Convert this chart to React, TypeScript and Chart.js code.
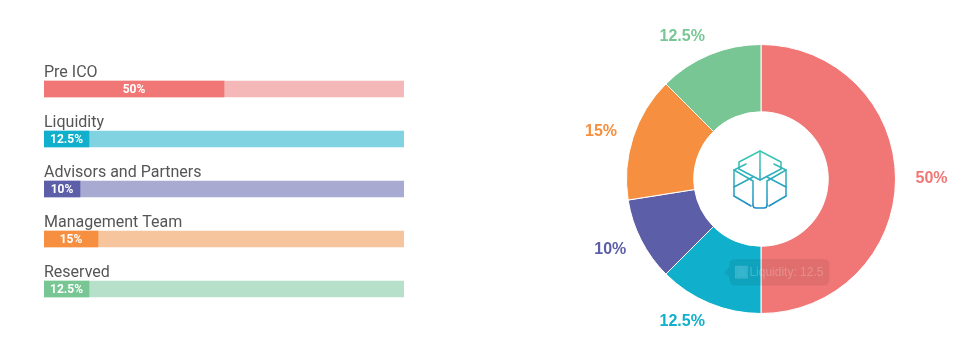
import React, { useEffect, useRef } from 'react';
import { Chart, registerables } from 'chart.js';

Chart.register(...registerables);

const categories = ['Pre ICO', 'Liquidity', 'Advisors and Partners', 'Management Team', 'Reserved'];
const shares = [50, 12.5, 10, 15, 12.5];
const shareLabels = ['50%', '12.5%', '10%', '15%', '12.5%'];
const trackValues = [100, 100, 100, 100, 100];
const solidColors = ['#f17776', '#10afcb', '#5c5ea8', '#f68f3f', '#78c694'];
const lightColors = ['#f4b8b8', '#81d3e1', '#a9aad2', '#f6c59e', '#b6e0c9'];
const tooltipIndex = 1;

const barLabelPlugin = {
  id: 'barLabels',
  afterDatasetsDraw(chart: any) {
    const ctx = chart.ctx;
    const meta = chart.getDatasetMeta(0);
    const left = chart.chartArea.left;
    ctx.save();
    meta.data.forEach((bar: any, i: number) => {
      const p = bar.getProps(['x', 'y', 'base', 'height'], true);
      ctx.font = '16px Roboto';
      ctx.fillStyle = '#555555';
      ctx.textAlign = 'left';
      ctx.textBaseline = 'alphabetic';
      ctx.fillText(categories[i], left, p.y - p.height / 2 - 4);
      ctx.font = 'bold 12px Roboto';
      ctx.fillStyle = '#ffffff';
      ctx.textAlign = 'center';
      ctx.textBaseline = 'middle';
      ctx.fillText(shareLabels[i], (p.x + p.base) / 2, p.y + 0.5);
    });
    ctx.restore();
  },
};

const logoPaths = [
  'M -21 -10 L -21 -17 L 0 -28 L 21 -17 L 21 -10',
  'M 0 -28 L 0 1',
  'M -26 17 L -26 -9 L -14 -15',
  'M 26 17 L 26 -9 L 14 -15',
  'M -21 -10 L 0 1 L 21 -10',
  'M -26 -9 L -7 2 L -7 26',
  'M 26 -9 L 7 2 L 7 26',
  'M -26 17 L -9 27',
  'M 26 17 L 9 27',
  'M -7 26 Q -7 29 -4 29 L 4 29 Q 7 29 7 26',
  'M -26 8 L -7 -2',
  'M 26 8 L 7 -2',
];

const donutPlugin = {
  id: 'donutExtras',
  afterDatasetsDraw(chart: any) {
    const ctx = chart.ctx;
    const meta = chart.getDatasetMeta(0);
    ctx.save();
    ctx.font = 'bold 16px "Liberation Sans", Arial, sans-serif';
    ctx.textBaseline = 'middle';
    let cx = 0;
    let cy = 0;
    meta.data.forEach((arc: any, i: number) => {
      const p = arc.getProps(['x', 'y', 'startAngle', 'endAngle', 'outerRadius'], true);
      cx = p.x;
      cy = p.y;
      const mid = (p.startAngle + p.endAngle) / 2;
      const r = p.outerRadius + 20;
      const px = p.x + Math.cos(mid) * r;
      const py = p.y + Math.sin(mid) * r;
      ctx.textAlign = Math.cos(mid) >= 0 ? 'left' : 'right';
      ctx.fillStyle = solidColors[i];
      ctx.fillText(shareLabels[i], Math.cos(mid) >= 0 ? px : px + 3, py);
    });
    // centre logo
    ctx.translate(cx - 1, cy);
    const grad = ctx.createLinearGradient(0, -28, 0, 29);
    grad.addColorStop(0, '#3cc9b2');
    grad.addColorStop(1, '#1b8cc4');
    ctx.strokeStyle = grad;
    ctx.lineWidth = 1.5;
    ctx.lineJoin = 'round';
    ctx.lineCap = 'round';
    logoPaths.forEach((d) => ctx.stroke(new Path2D(d)));
    ctx.restore();
  },
};

export default function App() {
  const barRef = useRef<HTMLCanvasElement>(null);
  const donutRef = useRef<HTMLCanvasElement>(null);

  useEffect(() => {
    const barChart = new Chart(barRef.current as HTMLCanvasElement, {
      type: 'bar',
      data: {
        labels: categories,
        datasets: [
          { data: shares, backgroundColor: solidColors, grouped: false, barThickness: 16, borderWidth: 0 } as any,
          { data: trackValues, backgroundColor: lightColors, grouped: false, barThickness: 16, borderWidth: 0 } as any,
        ],
      },
      options: {
        indexAxis: 'y',
        animation: false,
        responsive: false,
        events: [],
        layout: { padding: { left: 44, right: 76, top: 64, bottom: 43 } },
        scales: {
          x: { display: false, min: 0, max: 100 },
          y: { display: false },
        },
        plugins: { legend: { display: false }, tooltip: { enabled: false } },
      },
      plugins: [barLabelPlugin],
    });

    const donut = new Chart(donutRef.current as HTMLCanvasElement, {
      type: 'doughnut',
      data: {
        labels: categories,
        datasets: [
          {
            data: shares,
            backgroundColor: solidColors,
            borderColor: '#ffffff',
            borderWidth: 1,
          },
        ],
      },
      options: {
        animation: false,
        responsive: false,
        events: [],
        cutout: '50%',
        layout: { padding: { left: 146, right: 83, top: 44, bottom: 43 } },
        plugins: {
          legend: { display: false },
          tooltip: {
            animation: false,
            backgroundColor: 'rgba(0,0,0,0.07)',
            bodyColor: 'rgba(255,255,255,0.22)',
            bodyFont: { size: 12 },
            multiKeyBackground: 'rgba(255,255,255,0.12)',
            cornerRadius: 6,
            caretSize: 5,
            padding: 6,
            callbacks: {
              title: () => '',
              label: (c: any) => `${c.label}: ${c.formattedValue}`,
              labelColor: () => ({
                borderColor: 'rgba(255,255,255,0.15)',
                backgroundColor: 'rgba(60,190,215,0.55)',
              }),
            },
          } as any,
        },
      },
      plugins: [donutPlugin],
    });

    const arc: any = donut.getDatasetMeta(0).data[tooltipIndex];
    if (arc && donut.tooltip) {
      (donut.tooltip as any).setActiveElements([{ datasetIndex: 0, index: tooltipIndex }], { x: arc.x, y: arc.y });
      donut.draw();
    }

    return () => {
      barChart.destroy();
      donut.destroy();
    };
  }, []);

  return (
    <div style={{ position: 'fixed', left: 0, top: 0, width: 979, height: 357, background: '#ffffff' }}>
      <canvas
        ref={barRef}
        width={480}
        height={357}
        style={{ position: 'absolute', left: 0, top: 0, width: 480, height: 357 }}
      />
      <canvas
        ref={donutRef}
        width={499}
        height={357}
        style={{ position: 'absolute', left: 480, top: 0, width: 499, height: 357 }}
      />
    </div>
  );
}
